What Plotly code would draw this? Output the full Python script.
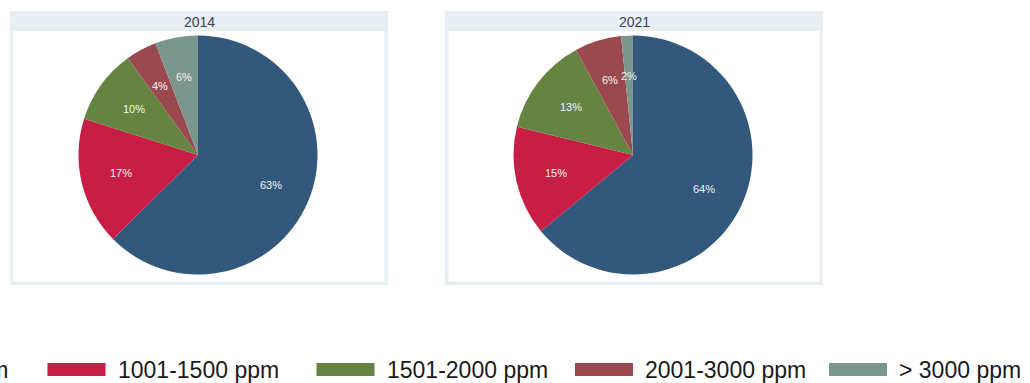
import math
import plotly.graph_objects as go

# ---------------- data ----------------
categories = ["\u2264 1000 ppm", "1001-1500 ppm", "1501-2000 ppm", "2001-3000 ppm", "> 3000 ppm"]
years = ["2014", "2021"]
share_2014 = [62.6, 17.3, 10.1, 4.2, 5.8]
share_2021 = [64.0, 14.8, 13.3, 6.3, 1.6]

# ---------------- style ----------------
colors = ["#32587B", "#C81E46", "#668441", "#9A4A4F", "#7B968C"]
W, H = 1030, 383
FONT = "Arial, Liberation Sans, sans-serif"
panel_bg = "#E8EFF2"
title_color = "#34415C"
label_color = "#F2F2F2"

# panel geometry (pixels)
panels = [
    dict(x0=10, x1=388, y0=11, y1=285, cx=198, cy=155),
    dict(x0=445, x1=823, y0=11, y1=285, cx=633, cy=155),
]
R = 119.5
border = 3.5
title_h = 20
label_r = 0.66

def px(x):
    return x / W

def py(y):
    return 1 - y / H

fig = go.Figure()
shapes = []
annotations = []

for p, yr, vals in zip(panels, years, [share_2014, share_2021]):
    # panel frame
    shapes.append(dict(type="rect", xref="paper", yref="paper",
                       x0=px(p["x0"]), x1=px(p["x1"]), y0=py(p["y1"]), y1=py(p["y0"]),
                       fillcolor=panel_bg, line=dict(width=0), layer="below"))
    shapes.append(dict(type="rect", xref="paper", yref="paper",
                       x0=px(p["x0"] + border), x1=px(p["x1"] - border),
                       y0=py(p["y1"] - border), y1=py(p["y0"] + title_h),
                       fillcolor="white", line=dict(width=0), layer="below"))
    annotations.append(dict(text=yr, xref="paper", yref="paper",
                            x=px((p["x0"] + p["x1"]) / 2), y=py(p["y0"] + title_h / 2 + 0.5),
                            xanchor="center", yanchor="middle", showarrow=False,
                            font=dict(family=FONT, size=14, color=title_color)))
    fig.add_trace(go.Pie(
        labels=categories, values=vals, sort=False, direction="clockwise", rotation=0,
        marker=dict(colors=colors, line=dict(width=0)),
        textinfo="none", showlegend=False,
        domain=dict(x=[px(p["cx"] - R), px(p["cx"] + R)],
                    y=[py(p["cy"] + R), py(p["cy"] - R)]),
    ))
    # slice labels placed along bisector
    total = sum(vals)
    cum = 0.0
    for v in vals:
        mid = (cum + v / 2) / total
        cum += v
        th = 2 * math.pi * mid
        lx = p["cx"] + label_r * R * math.sin(th)
        ly = p["cy"] - label_r * R * math.cos(th)
        annotations.append(dict(text=f"{round(v / total * 100)}%", xref="paper", yref="paper",
                                x=px(lx), y=py(ly), xanchor="center", yanchor="middle",
                                showarrow=False,
                                font=dict(family=FONT, size=11, color=label_color)))

# ---------------- custom legend ----------------
leg_swatch_x = [-215, 47.5, 316.5, 575, 829]
sw_w, sw_h = 58, 13
leg_y = 369.5
for i, (cat, col) in enumerate(zip(categories, colors)):
    sx = leg_swatch_x[i]
    shapes.append(dict(type="rect", xref="paper", yref="paper",
                       x0=px(sx), x1=px(sx + sw_w), y0=py(leg_y + sw_h / 2), y1=py(leg_y - sw_h / 2),
                       fillcolor=col, line=dict(width=0)))
    if i == 0:
        annotations.append(dict(text=cat, xref="paper", yref="paper", x=px(9.5), y=py(leg_y),
                                xanchor="right", yanchor="middle", showarrow=False,
                                font=dict(family=FONT, size=23, color="#1a1a1a")))
    else:
        annotations.append(dict(text=cat, xref="paper", yref="paper", x=px(sx + sw_w + 10), y=py(leg_y),
                                xanchor="left", yanchor="middle", showarrow=False,
                                font=dict(family=FONT, size=23, color="#1a1a1a")))

fig.update_layout(
    width=W, height=H,
    margin=dict(l=0, r=0, t=0, b=0, autoexpand=False),
    paper_bgcolor="white", plot_bgcolor="white",
    shapes=shapes, annotations=annotations,
    font=dict(family=FONT),
)

fig.write_html("out.html")
